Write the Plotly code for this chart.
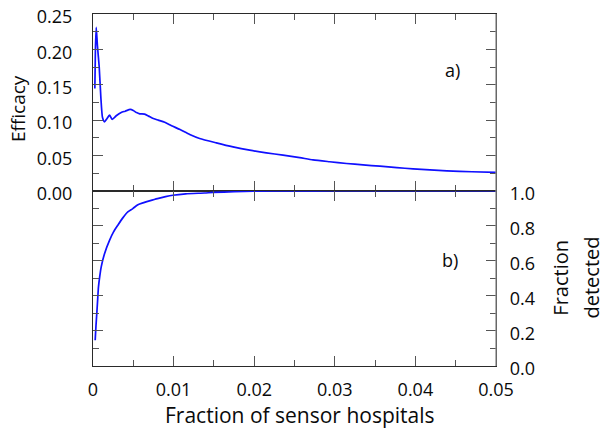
import plotly.graph_objects as go

# Efficacy versus fraction of sensor hospitals (panel a)
eff_x = [0.00023, 0.0003, 0.0004, 0.00055, 0.00077, 0.00097, 0.00118, 0.00143,
         0.0017, 0.00205, 0.00238, 0.00288, 0.0035, 0.0040, 0.00462, 0.0050,
         0.0054, 0.0058, 0.0064, 0.0069, 0.0074, 0.0081, 0.0089, 0.00975,
         0.0108, 0.0120, 0.01323, 0.0153, 0.01737, 0.01944, 0.0215, 0.02358,
         0.02565, 0.0273, 0.02935, 0.03145, 0.0335, 0.0356, 0.0377, 0.0397,
         0.0418, 0.0439, 0.0470, 0.0500]
eff_y = [0.1447, 0.200, 0.231, 0.205, 0.175, 0.133, 0.1035, 0.0974,
         0.1015, 0.1068, 0.1010, 0.1060, 0.1107, 0.1125, 0.1150, 0.1135,
         0.1105, 0.1088, 0.1083, 0.1055, 0.1025, 0.0998, 0.0968, 0.0920,
         0.0865, 0.0795, 0.0739, 0.0677, 0.0620, 0.0573, 0.0535, 0.0503,
         0.0468, 0.0437, 0.0410, 0.0385, 0.0365, 0.0347, 0.0327, 0.0309,
         0.0294, 0.0280, 0.0268, 0.0258]

# Fraction of outbreaks detected (panel b)
det_x = [0.00027, 0.00037, 0.00047, 0.00058, 0.00068, 0.00085, 0.00102, 0.00143,
         0.00205, 0.00255, 0.00308, 0.0037, 0.00432, 0.00494, 0.00557, 0.0063,
         0.0070, 0.0080, 0.0090, 0.0099, 0.0115, 0.01385, 0.0149, 0.0175,
         0.0199, 0.0250, 0.0300, 0.0400, 0.0500]
det_y = [0.147, 0.230, 0.299, 0.380, 0.451, 0.515, 0.565, 0.641,
         0.717, 0.765, 0.803, 0.845, 0.879, 0.898, 0.920, 0.932,
         0.942, 0.955, 0.966, 0.974, 0.982, 0.987, 0.990, 0.994,
         0.997, 0.999, 1.000, 1.000, 1.000]

x_ticks = [0, 0.01, 0.02, 0.03, 0.04, 0.05]
x_labels = ["0", "0.01", "0.02", "0.03", "0.04", "0.05"]
eff_ticks = [0.00, 0.05, 0.10, 0.15, 0.20, 0.25]
eff_labels = ["0.00", "0.05", "0.10", "0.15", "0.20", "0.25"]
det_ticks = [0.0, 0.2, 0.4, 0.6, 0.8, 1.0]
det_labels = ["0.0", "0.2", "0.4", "0.6", "0.8", "1.0"]

FONT = "Open Sans"
TEXT = "#0a0a0a"
LINE = "#2a2a2a"
TICK = "#555555"
BLUE = "#1010ff"
SPLIT = 0.498

fig = go.Figure()
fig.add_trace(go.Scatter(x=eff_x, y=eff_y, mode="lines",
                         line=dict(color=BLUE, width=1.7, shape="spline", smoothing=0.6),
                         xaxis="x", yaxis="y", showlegend=False))
fig.add_trace(go.Scatter(x=det_x, y=det_y, mode="lines",
                         line=dict(color=BLUE, width=1.7, shape="spline", smoothing=0.6),
                         xaxis="x2", yaxis="y2", showlegend=False))

common_x = dict(range=[0, 0.05], showline=True, linecolor=LINE, linewidth=1.3,
                mirror="ticks", ticks="inside", ticklen=10, tickwidth=1.2,
                tickcolor=TICK, showgrid=False, zeroline=False, automargin=False,
                tickmode="array", tickvals=x_ticks, ticktext=x_labels,
                minor=dict(tickmode="linear", tick0=0, dtick=0.005, ticks="inside",
                           ticklen=6, tickwidth=1.2, tickcolor=TICK, showgrid=False))

fig.update_layout(
    width=605, height=430,
    margin=dict(l=93, r=109, t=14, b=64, autoexpand=False),
    paper_bgcolor="white", plot_bgcolor="white",
    font=dict(family=FONT, size=18, color=TEXT),
    xaxis=dict(common_x, anchor="y", showticklabels=False),
    xaxis2=dict(common_x, anchor="y2", matches="x", showticklabels=True,
                ticklabelstandoff=7, tickfont=dict(size=18)),
    yaxis=dict(domain=[SPLIT, 1], range=[0, 0.25], anchor="x", side="left",
               showline=True, linecolor=LINE, linewidth=1.3, mirror="ticks",
               ticks="inside", ticklen=10, tickwidth=1.2, tickcolor=TICK,
               showgrid=False, zeroline=False, automargin=False, tickmode="array",
               tickvals=eff_ticks, ticktext=eff_labels, ticklabelstandoff=16,
               ticklabelshift=3, ticklabeloverflow="allow",
               minor=dict(tickmode="linear", tick0=0, dtick=0.025, ticks="inside",
                          ticklen=6, tickwidth=1.2, tickcolor=TICK, showgrid=False)),
    yaxis2=dict(domain=[0, SPLIT], range=[0, 1], anchor="x2", side="right",
                showline=True, linecolor=LINE, linewidth=1.3, mirror="ticks",
                ticks="inside", ticklen=10, tickwidth=1.2, tickcolor=TICK,
                showgrid=False, zeroline=False, automargin=False, tickmode="array",
                tickvals=det_ticks, ticktext=det_labels, ticklabelstandoff=9,
                ticklabelshift=3, ticklabeloverflow="allow",
                minor=dict(tickmode="linear", tick0=0, dtick=0.1, ticks="inside",
                           ticklen=6, tickwidth=1.2, tickcolor=TICK, showgrid=False)),
)

# Right-hand frame edge drawn in a lighter grey
fig.add_shape(type="line", xref="paper", yref="paper", x0=1, x1=1, y0=0, y1=1,
              line=dict(color="#8a8a8a", width=1.3), layer="above")

fig.add_annotation(text="Efficacy", xref="paper", yref="paper", x=-0.186, y=0.730,
                   textangle=-90, showarrow=False,
                   font=dict(family=FONT, size=19, color=TEXT),
                   xanchor="center", yanchor="middle")
fig.add_annotation(text="Fraction", xref="paper", yref="paper", x=1.158, y=0.25,
                   textangle=-90, showarrow=False,
                   font=dict(family=FONT, size=20, color=TEXT),
                   xanchor="center", yanchor="middle")
fig.add_annotation(text="detected", xref="paper", yref="paper", x=1.2705, y=0.25,
                   textangle=-90, showarrow=False, borderpad=0,
                   font=dict(family=FONT, size=20, color=TEXT),
                   xanchor="right", yanchor="middle")
fig.add_annotation(text="Fraction of sensor hospitals", xref="paper", yref="paper",
                   x=0.514, y=-64 / 352, showarrow=False, borderpad=0,
                   font=dict(family=FONT, size=21, color=TEXT),
                   xanchor="center", yanchor="bottom")
fig.add_annotation(text="a)", xref="paper", yref="paper", x=0.891, y=0.841,
                   showarrow=False, font=dict(family=FONT, size=18, color=TEXT),
                   xanchor="center", yanchor="middle")
fig.add_annotation(text="b)", xref="paper", yref="paper", x=0.886, y=0.301,
                   showarrow=False, font=dict(family=FONT, size=18, color=TEXT),
                   xanchor="center", yanchor="middle")

fig.write_html("out.html")
